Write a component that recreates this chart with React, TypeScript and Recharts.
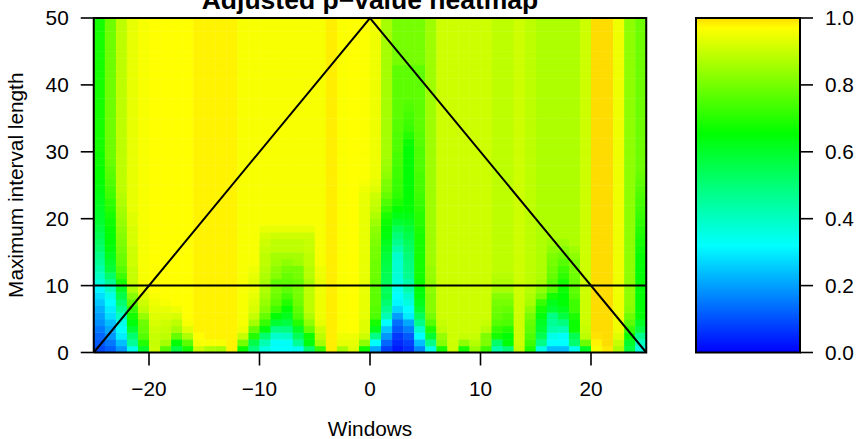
import {
  Bar,
  BarChart,
  Scatter,
  ScatterChart,
  XAxis,
  YAxis,
} from "recharts";

const FONT = '"Liberation Sans", Arial, sans-serif';

const X_TICKS = [-20, -10, 0, 10, 20];
const Y_TICKS = [0, 10, 20, 30, 40, 50];
const BAR_TICKS = [0, 0.2, 0.4, 0.6, 0.8, 1];

// colour ramp of the key, value in percent
const RAMP_LEVELS = [0, 32, 65.5, 97, 100];
const RAMP_COLORS = [
  [0, 0, 255],
  [0, 255, 255],
  [0, 255, 0],
  [255, 255, 0],
  [255, 220, 0],
];

// p-values in percent, one list per window from the bottom row up.
// The last reading of a list holds up to the top of the plot.
const COLUMNS: number[][] = [
  [9, 11, 13, 15, 18, 20, 22, 25, 28, 31, 37, 40, 43, 46, 48, 51, 53, 55, 57, 59, 60, 61, 62, 63, 64, 65, 66, 66, 67, 67, 68],
  [12, 15, 19, 21, 24, 28, 30, 32, 35, 40, 46, 52, 58, 60, 62, 64, 65, 65, 66, 67, 68, 70, 71, 73, 74, 75, 76, 77, 78, 79],
  [19, 24, 30, 32, 35, 40, 46, 51, 56, 61, 68, 73, 76, 78, 79, 80, 81, 82, 83, 84, 85, 86, 87, 88, 89],
  [35, 46, 51, 59, 64, 68, 72, 77, 82, 87, 90, 90, 90, 91, 91, 91, 92, 92, 92, 93, 93, 94],
  [60, 70, 76, 78, 79, 84, 89, 91, 93, 95, 96],
  [91, 90, 90, 91, 92, 93, 94, 95, 96, 97],
  [76, 86, 89, 90, 91, 93, 94, 96, 97],
  [57, 65, 78, 86, 89, 92, 95, 97],
  [68, 77, 87, 93, 96, 97],
  [91, 96, 97, 98],
  [87, 96, 98],
  [86, 96, 98],
  [98],
  [67, 80, 90, 95, 96],
  [49, 56, 70, 78, 86, 90, 92, 93, 94, 95, 93, 94, 95, 96],
  [36, 42, 51, 64, 72, 78, 82, 84, 86, 87, 86, 87, 88, 89, 89, 90, 91, 92, 94, 96],
  [32, 33, 39, 48, 59, 65, 73, 77, 79, 80, 77, 82, 83, 85, 86, 89, 89, 91, 94, 96],
  [32, 33, 40, 49, 57, 62, 65, 70, 74, 77, 77, 78, 80, 83, 86, 89, 89, 91, 94, 96],
  [34, 46, 54, 61, 70, 75, 77, 79, 80, 80, 78, 80, 80, 85, 86, 89, 89, 91, 94, 96],
  [51, 64, 67, 78, 83, 87, 89, 89, 89, 89, 86, 88, 88, 89, 89, 90, 90, 91, 94, 96],
  [72, 86, 89, 91, 94, 95, 95, 95, 95, 95, 94, 95, 95, 96],
  [98.5],
  [86, 94, 95, 96.5],
  [93, 94, 95, 97],
  [67, 83, 91, 93, 93, 94, 94, 94, 94, 94, 94, 94, 94, 94, 94, 94, 94, 94, 94, 94, 94, 94, 94, 94, 95, 96, 96.5],
  [21, 32, 48, 62, 68, 75, 76, 77, 77, 77, 78, 79, 79, 79, 80, 80, 81, 82, 83, 85, 87, 89, 90, 91, 93, 94, 95],
  [8, 13, 19, 25, 32, 42, 47, 51, 55, 54, 54, 55, 56, 57, 58, 60, 62, 64, 65, 67, 69, 72, 75, 78, 80, 81, 83, 84, 85, 86],
  [3, 5, 7, 11, 14, 20, 27, 31, 32, 34, 36, 37, 38, 38, 39, 43, 47, 50, 54, 59, 63, 66, 69, 71, 72, 72, 73, 73, 74, 74, 75, 75, 75, 76, 76, 77, 77, 77, 77, 77, 77, 77, 77, 80],
  [6, 8, 11, 16, 21, 30, 32, 36, 39, 43, 43, 47, 48, 49, 50, 52, 54, 56, 58, 61, 63, 65, 65, 65, 65, 65, 65, 65, 65, 65, 65, 67, 70, 72, 73, 74, 75, 76, 77, 77, 77, 77, 77, 80],
  [17, 24, 32, 39, 48, 54, 59, 62, 64, 65, 67, 68, 68, 68, 68, 68, 68, 68, 69, 70, 70, 71, 72, 73, 74, 74, 74, 75, 75, 75, 75, 76, 76, 77, 77, 77, 77, 77, 77, 77, 77, 77, 77, 80],
  [35, 48, 59, 69, 76, 80, 82, 82, 82, 83, 83, 84, 84, 85],
  [68, 82, 84, 89, 90, 91],
  [91],
  [68, 83, 90, 91],
  [84, 88, 90, 91],
  [73, 81, 81, 88, 90, 91],
  [43, 52, 68, 72, 76, 78, 79, 80, 82, 86, 87, 88, 89],
  [50, 65, 65, 70, 75, 76, 78, 80, 82, 86, 87, 88, 89],
  [90, 91],
  [69, 73, 75, 77, 78, 80, 83, 86, 87, 88, 89],
  [35, 48, 55, 59, 61, 64, 68, 72, 80, 83, 86, 87],
  [24, 32, 35, 43, 46, 48, 59, 62, 68, 76, 76, 78, 79, 80, 81, 83, 85, 87],
  [24, 32, 33, 42, 49, 57, 62, 65, 65, 67, 68, 71, 73, 76, 79, 82, 85, 87],
  [34, 51, 55, 67, 67, 69, 73, 73, 76, 77, 78, 79, 80, 81, 83, 85, 87],
  [61, 79, 89, 90, 91],
  [96, 98, 99.5, 100],
  [99, 100],
  [87, 90, 93, 95],
  [57, 60, 67, 72, 77, 79, 82, 83],
  [36, 40, 47, 57, 61, 65, 65, 65, 65, 65, 65, 65, 65, 66, 66, 67, 68, 69, 70, 71, 72, 73, 74, 75, 76, 77, 78, 79],
];

const ROW_COUNT = 50;
const X_MIN = -25;
const X_MAX = 25;

// overlay lines on the heatmap
const TRIANGLE = [
  { x: -25, y: 0 },
  { x: 0, y: 50 },
  { x: 25, y: 0 },
];
const LEVEL_LINE = [
  { x: -25, y: 10 },
  { x: 25, y: 10 },
];
const FRAME = [
  { x: -25, y: 0 },
  { x: -25, y: 50 },
  { x: 25, y: 50 },
  { x: 25, y: 0 },
  { x: -25, y: 0 },
];

const PLOT_W = 552.5;
const PLOT_H = 334.5;
const CELL_W = PLOT_W / COLUMNS.length;
const CELL_H = PLOT_H / ROW_COUNT;

function colorFor(value: number): string {
  let i = 0;
  while (i < RAMP_LEVELS.length - 2 && value > RAMP_LEVELS[i + 1]) i++;
  const t = (value - RAMP_LEVELS[i]) / (RAMP_LEVELS[i + 1] - RAMP_LEVELS[i]);
  const [r, g, b] = RAMP_COLORS[i].map((c, k) =>
    Math.round(c + (RAMP_COLORS[i + 1][k] - c) * t),
  );
  return `rgb(${r},${g},${b})`;
}

const cells = COLUMNS.flatMap((col, i) =>
  Array.from({ length: ROW_COUNT }, (_, row) => ({
    x: X_MIN + i + 0.5,
    y: row + 0.5,
    value: col[Math.min(row, col.length - 1)],
  })),
);

const keyData = [{ name: "p", level: 1 }];

const tickStyle = { fontSize: 20.8, fontFamily: FONT, fill: "#000" };
const tickLine = { stroke: "#000", strokeWidth: 1.6 };
const overlay = { stroke: "#000", strokeWidth: 2 };

const HeatCell = (props: any) => (
  <rect
    x={props.cx - CELL_W / 2}
    y={props.cy - CELL_H / 2}
    width={CELL_W + 0.4}
    height={CELL_H + 0.4}
    fill={colorFor(props.payload.value)}
  />
);

const NoPoint = () => null;

export default function App() {
  return (
    <div style={{ position: "absolute", left: 0, top: 0, width: 857, height: 439, overflow: "hidden" }}>
      <div style={{ position: "absolute", left: 0, top: 0 }}>
        <ScatterChart
          width={680}
          height={439}
          margin={{ top: 18, right: 33.75, bottom: 0, left: 0 }}
        >
          <XAxis
            type="number"
            dataKey="x"
            domain={[X_MIN, X_MAX]}
            ticks={X_TICKS}
            interval={0}
            height={86.5}
            axisLine={false}
            tickSize={13}
            tickMargin={16}
            tickLine={tickLine}
            tick={tickStyle}
            tickFormatter={(v: number) => String(v).replace("-", "\u2212")}
            label={{ value: "Windows", position: "insideBottom", offset: 3, style: tickStyle }}
          />
          <YAxis
            type="number"
            dataKey="y"
            domain={[0, ROW_COUNT]}
            ticks={Y_TICKS}
            interval={0}
            width={93.75}
            axisLine={false}
            tickSize={13}
            tickMargin={12}
            tickLine={tickLine}
            tick={tickStyle}
            label={{
              value: "Maximum interval length",
              angle: -90,
              position: "insideLeft",
              offset: 16,
              style: { ...tickStyle, textAnchor: "middle" },
            }}
          />
          <Scatter data={cells} shape={HeatCell} isAnimationActive={false} />
          <Scatter data={TRIANGLE} line={overlay} shape={NoPoint} isAnimationActive={false} />
          <Scatter data={LEVEL_LINE} line={overlay} shape={NoPoint} isAnimationActive={false} />
          <Scatter data={FRAME} line={overlay} shape={NoPoint} isAnimationActive={false} />
          <text
            x={370}
            y={9}
            textAnchor="middle"
            style={{ fontSize: 26.5, fontWeight: 700, fontFamily: FONT, fill: "#000" }}
          >
            Adjusted p{"\u2212"}value heatmap
          </text>
        </ScatterChart>
      </div>
      <div style={{ position: "absolute", left: 0, top: 0 }}>
        <BarChart
          width={857}
          height={439}
          data={keyData}
          barCategoryGap={0}
          margin={{ top: 18, right: 0, bottom: 86.5, left: 696 }}
        >
          <defs>
            <linearGradient id="keyRamp" x1="0" y1="1" x2="0" y2="0">
              {RAMP_LEVELS.map((level, i) => (
                <stop key={level} offset={`${level}%`} stopColor={`rgb(${RAMP_COLORS[i].join(",")})`} />
              ))}
            </linearGradient>
          </defs>
          <XAxis dataKey="name" hide />
          <YAxis
            orientation="right"
            type="number"
            domain={[0, 1]}
            ticks={BAR_TICKS}
            interval={0}
            width={57}
            axisLine={false}
            tickSize={13}
            tickMargin={12}
            tickLine={tickLine}
            tick={tickStyle}
            tickFormatter={(v: number) => v.toFixed(1)}
          />
          <Bar dataKey="level" fill="url(#keyRamp)" stroke="#000" strokeWidth={2} isAnimationActive={false} />
        </BarChart>
      </div>
    </div>
  );
}
